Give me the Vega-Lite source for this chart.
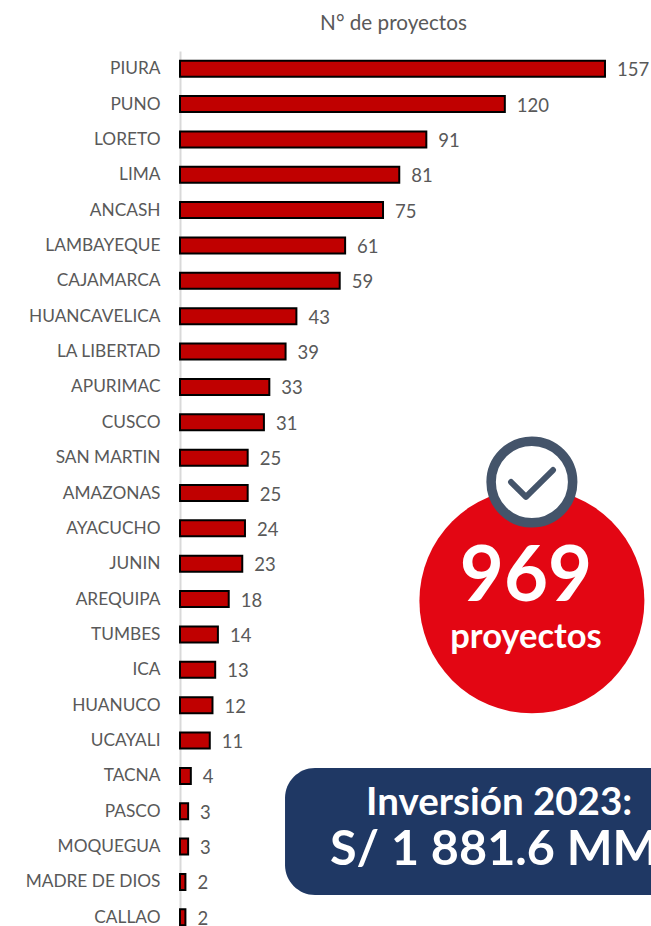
{
"$schema":"https://vega.github.io/schema/vega-lite/v6.json",
"width":471,"height":884,
"autosize":{"type":"none"},
"padding":{"left":180,"top":51,"right":0,"bottom":0},
"background":"white",
"config":{"view":{"stroke":null},"font":"Lato"},
"datasets":{"regions":[
{"region":"PIURA","proyectos":157},{"region":"PUNO","proyectos":120},{"region":"LORETO","proyectos":91},{"region":"LIMA","proyectos":81},{"region":"ANCASH","proyectos":75},{"region":"LAMBAYEQUE","proyectos":61},{"region":"CAJAMARCA","proyectos":59},{"region":"HUANCAVELICA","proyectos":43},{"region":"LA LIBERTAD","proyectos":39},{"region":"APURIMAC","proyectos":33},{"region":"CUSCO","proyectos":31},{"region":"SAN MARTIN","proyectos":25},{"region":"AMAZONAS","proyectos":25},{"region":"AYACUCHO","proyectos":24},{"region":"JUNIN","proyectos":23},{"region":"AREQUIPA","proyectos":18},{"region":"TUMBES","proyectos":14},{"region":"ICA","proyectos":13},{"region":"HUANUCO","proyectos":12},{"region":"UCAYALI","proyectos":11},{"region":"TACNA","proyectos":4},{"region":"PASCO","proyectos":3},{"region":"MOQUEGUA","proyectos":3},{"region":"MADRE DE DIOS","proyectos":2},{"region":"CALLAO","proyectos":2}
]},
"resolve":{"scale":{"y":"independent"}},
"layer":[
{"data":{"name":"regions"},
 "layer":[
 {"mark":{"type":"bar","size":16,"fill":"#c00000","stroke":"#000000","strokeWidth":2},
  "encoding":{
   "y":{"field":"region","type":"nominal","sort":null,"scale":{"paddingInner":0,"paddingOuter":0},
    "axis":{"title":null,"domainColor":"#d9d9d9","domainWidth":2,"ticks":false,"labelFont":"Lato","labelFontSize":17.3,"labelColor":"#595959","labelPadding":20,"labelLimit":170,"labelOffset":0.5,"grid":false}},
   "x":{"field":"proyectos","type":"quantitative","scale":{"domain":[0,174],"nice":false,"zero":true},
    "axis":{"orient":"top","title":"N° de proyectos","labels":false,"ticks":false,"domain":false,"grid":false,"titleFont":"Lato","titleFontSize":20.7,"titleFontWeight":"normal","titleColor":"#595959","titleX":213,"titleY":-28,"titleBaseline":"middle","titleAnchor":"middle","titleAlign":"center"}}
  }},
 {"mark":{"type":"text","align":"left","dx":12,"dy":1.5,"font":"Lato","fontSize":18.5,"color":"#595959"},
  "encoding":{
   "y":{"field":"region","type":"nominal","sort":null},
   "x":{"field":"proyectos","type":"quantitative"},
   "text":{"field":"proyectos","type":"quantitative"}
  }}
 ]},
{"layer":[
 {"data":{"values":[{"x":130,"y":15.55}]},
  "mark":{"type":"point","shape":"circle","filled":true,"size":50625,"color":"#e30613","opacity":1},
  "encoding":{"x":{"field":"x","type":"quantitative"},"y":{"field":"y","type":"quantitative","scale":{"domain":[0,25],"reverse":true,"nice":false,"zero":false},"axis":null}}},
 {"data":{"values":[{"x":130,"y":12.19}]},
  "mark":{"type":"point","shape":"circle","filled":false,"fill":"white","fillOpacity":1,"size":6650,"stroke":"#44546a","strokeWidth":9.5,"opacity":1},
  "encoding":{"x":{"field":"x","type":"quantitative"},"y":{"field":"y","type":"quantitative"}}},
 {"data":{"values":[{"x":122.3,"y":12.19,"o":1},{"x":127.8,"y":12.61,"o":2},{"x":137.8,"y":11.85,"o":3}]},
  "mark":{"type":"line","stroke":"#44546a","strokeWidth":6,"strokeCap":"round","strokeJoin":"round"},
  "encoding":{"x":{"field":"x","type":"quantitative"},"y":{"field":"y","type":"quantitative"},"order":{"field":"o","type":"ordinal"}}},
 {"data":{"values":[{"x":38.8,"x2":185,"y":20.28,"y2":23.87}]},
  "mark":{"type":"rect","color":"#1f3864","cornerRadius":30},
  "encoding":{"x":{"field":"x","type":"quantitative"},"x2":{"field":"x2"},"y":{"field":"y","type":"quantitative"},"y2":{"field":"y2"}}},
 {"data":{"values":[{"x":127.8,"y":14.9,"t":"969"}]},
  "mark":{"type":"text","font":"Lato","fontWeight":"bold","fontSize":76,"color":"white","align":"center","baseline":"middle"},
  "encoding":{"x":{"field":"x","type":"quantitative"},"y":{"field":"y","type":"quantitative"},"text":{"field":"t"}}},
 {"data":{"values":[{"x":127.8,"y":16.6,"t":"proyectos"}]},
  "mark":{"type":"text","font":"Lato","fontWeight":"bold","fontSize":34.5,"color":"white","align":"center","baseline":"middle"},
  "encoding":{"x":{"field":"x","type":"quantitative"},"y":{"field":"y","type":"quantitative"},"text":{"field":"t"}}},
 {"data":{"values":[{"x":117.9,"y":21.27,"t":"Inversión 2023:"}]},
  "mark":{"type":"text","font":"Lato","fontWeight":"bold","fontSize":38.5,"color":"white","align":"center","baseline":"middle"},
  "encoding":{"x":{"field":"x","type":"quantitative"},"y":{"field":"y","type":"quantitative"},"text":{"field":"t"}}},
 {"data":{"values":[{"x":55.4,"y":22.6,"t":"S/ 1 881.6 MM"}]},
  "mark":{"type":"text","font":"Lato","fontWeight":"bold","fontSize":48.5,"color":"white","align":"left","baseline":"middle"},
  "encoding":{"x":{"field":"x","type":"quantitative"},"y":{"field":"y","type":"quantitative"},"text":{"field":"t"}}}
]}
]}
